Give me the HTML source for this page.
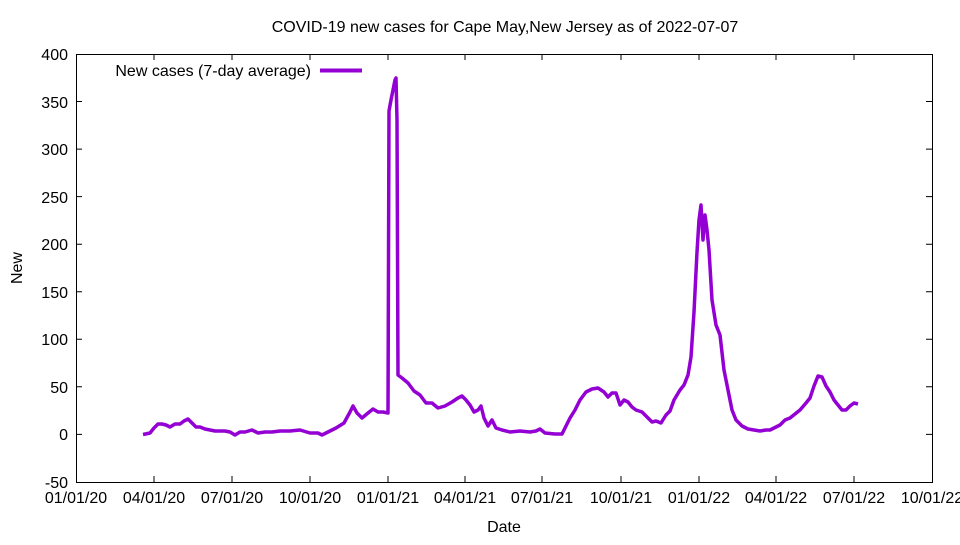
<!DOCTYPE html>
<html><head><meta charset="utf-8"><style>body{margin:0;background:#fff}</style></head>
<body>
<svg width="960" height="540" xmlns="http://www.w3.org/2000/svg" font-family="Liberation Sans, sans-serif" font-size="16">
<rect width="960" height="540" fill="#fff"/>
<text x="505" y="32" text-anchor="middle">COVID-19 new cases for Cape May,New Jersey as of 2022-07-07</text>
<g stroke="#000" stroke-width="1" fill="none">
<rect x="76.5" y="54.5" width="856" height="428"/>
<path d="M76 434.4h6M932 434.4h-6M76 386.8h6M932 386.8h-6M76 339.3h6M932 339.3h-6M76 291.7h6M932 291.7h-6M76 244.2h6M932 244.2h-6M76 196.6h6M932 196.6h-6M76 149.1h6M932 149.1h-6M76 101.5h6M932 101.5h-6
M154 482v-6M154 54v6M232 482v-6M232 54v6M310 482v-6M310 54v6M388 482v-6M388 54v6M465 482v-6M465 54v6M542 482v-6M542 54v6M621 482v-6M621 54v6M699 482v-6M699 54v6M776 482v-6M776 54v6M854 482v-6M854 54v6"/>
</g>
<g text-anchor="end">
<text x="68" y="488">-50</text><text x="68" y="440">0</text><text x="68" y="393">50</text><text x="68" y="345">100</text><text x="68" y="298">150</text><text x="68" y="250">200</text><text x="68" y="203">250</text><text x="68" y="155">300</text><text x="68" y="108">350</text><text x="68" y="60">400</text>
</g>
<g text-anchor="middle">
<text x="76" y="503">01/01/20</text><text x="154" y="503">04/01/20</text><text x="232" y="503">07/01/20</text><text x="310" y="503">10/01/20</text><text x="388" y="503">01/01/21</text><text x="465" y="503">04/01/21</text><text x="542" y="503">07/01/21</text><text x="621" y="503">10/01/21</text><text x="699" y="503">01/01/22</text><text x="776" y="503">04/01/22</text><text x="854" y="503">07/01/22</text><text x="932" y="503">10/01/22</text>
<text x="504" y="532">Date</text>
<text x="22" y="268" transform="rotate(-90 22 268)">New</text>
</g>
<text x="311" y="76" text-anchor="end">New cases (7-day average)</text>
<path d="M320 70.5h42" stroke="#9400d3" stroke-width="4"/>
<polyline fill="none" stroke="#9400d3" stroke-width="3.5" stroke-linejoin="round" points="143,434.5 150,433 154,428 158,424 162,424 166,425 170,427 175,424 180,424 184,421 188,419 192,423 196,427 200,427 205,429 210,430 215,431 220,431 225,431 230,432 235,435 240,432 245,432 252,430 258,433 265,432 272,432 280,431 290,431 300,430 310,433 318,433 322,435 328,432 336,428 344,423 350,412 353,406 357,413 362,418 368,413 373,409 378,412 383,412 388,413 389,111 391,100 393,90 395,80 396,78 397,120 398,375 402,378 408,383 414,391 420,395 426,403 432,403 438,408 445,406 452,402 458,398 462,396 466,400 470,405 474,412 478,410 481,406 484,418 488,426 492,420 496,428 502,430 510,432 520,431 530,432 536,431 540,429 545,433 555,434 562,434 566,426 570,418 575,410 580,400 586,392 592,389 598,388 604,392 608,397 612,393 616,393 620,405 624,400 628,402 632,407 636,410 642,412 648,418 652,422 656,421 661,423 666,415 670,411 674,400 680,390 684,385 688,375 691,357 694,312 697,252 699,220 701,205 703,240 705,215 707,230 709,250 712,300 716,325 720,335 724,370 728,390 732,410 736,420 742,426 748,429 754,430 760,431 766,430 770,430 774,428 780,425 785,420 790,418 795,414 800,410 806,403 810,398 814,386 818,376 822,377 826,386 830,392 834,400 838,405 842,410 846,410 850,406 854,403 858,404"/>
</svg>
</body></html>
